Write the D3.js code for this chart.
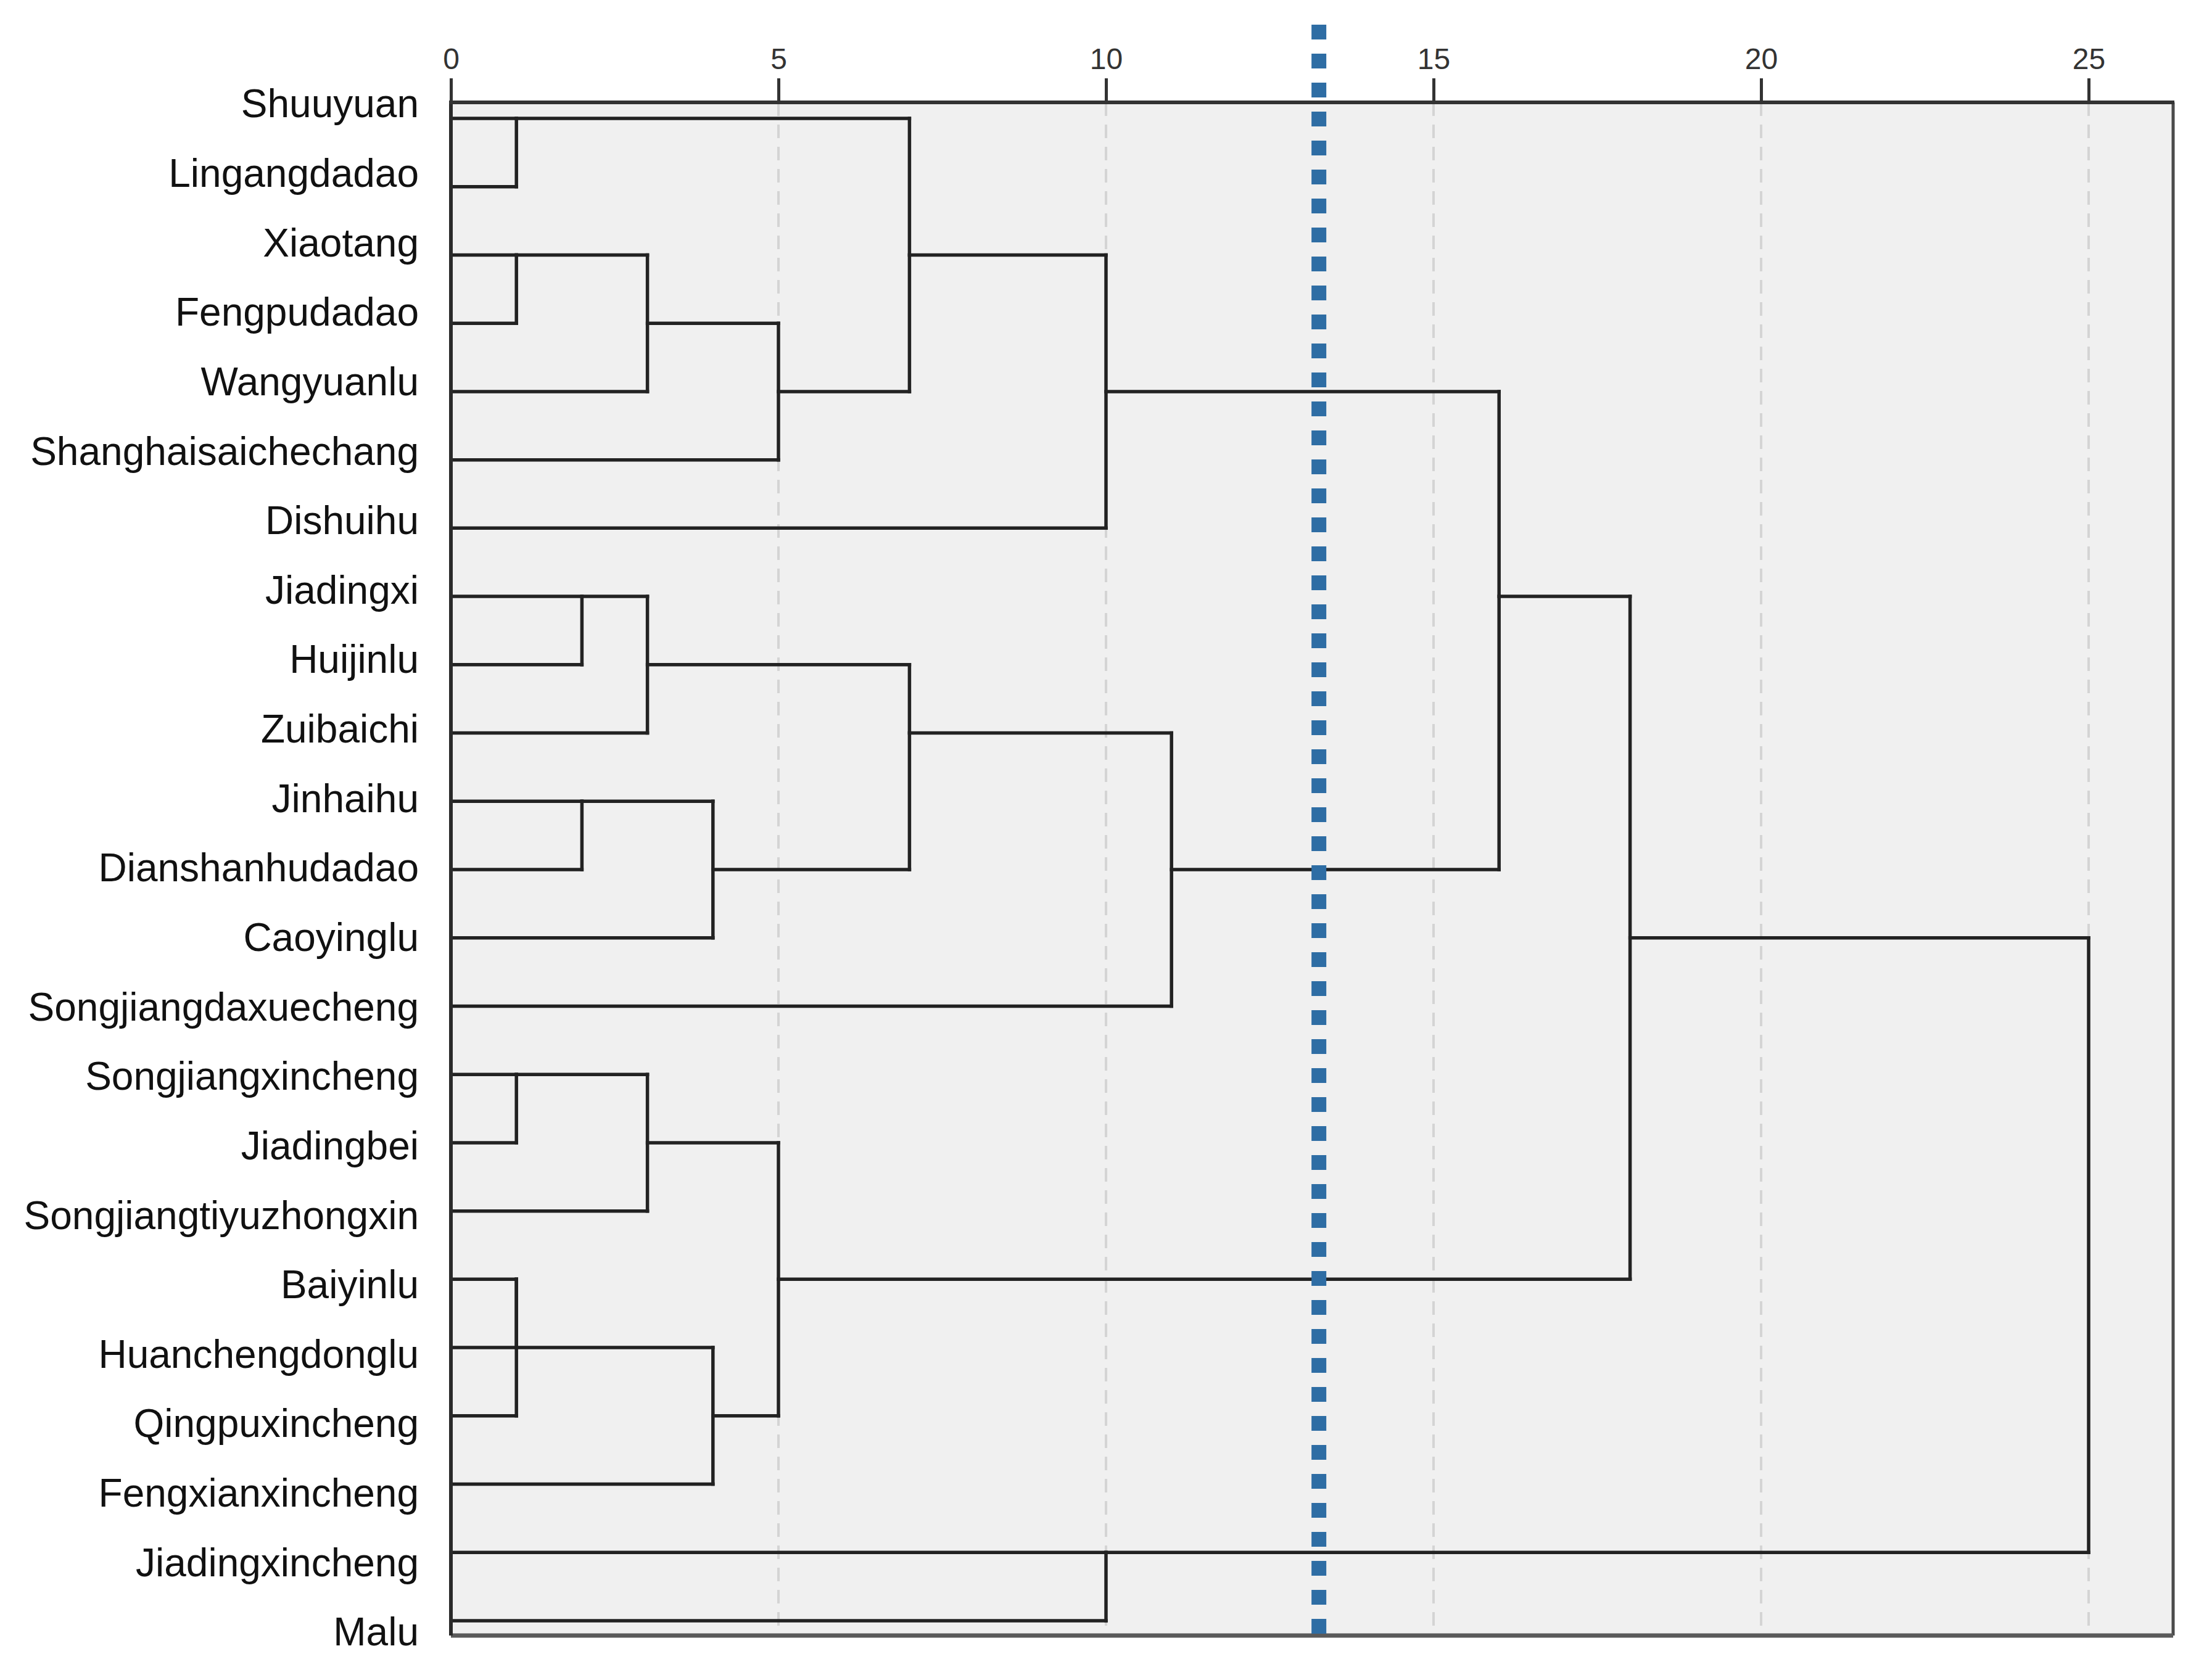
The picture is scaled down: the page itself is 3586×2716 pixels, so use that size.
<!DOCTYPE html>
<html>
<head>
<meta charset="utf-8">
<script src="https://cdn.jsdelivr.net/npm/d3@7"></script>
<style>
  body { margin: 0; background: #fff; }
  svg { display: block; }
</style>
</head>
<body>
<svg id="chart" width="3586" height="2716"></svg>
<script>
// leaf order, top to bottom
var leaves = ["Shuuyuan", "Lingangdadao", "Xiaotang", "Fengpudadao", "Wangyuanlu",
  "Shanghaisaichechang", "Dishuihu", "Jiadingxi", "Huijinlu", "Zuibaichi", "Jinhaihu",
  "Dianshanhudadao", "Caoyinglu", "Songjiangdaxuecheng", "Songjiangxincheng", "Jiadingbei",
  "Songjiangtiyuzhongxin", "Baiyinlu", "Huanchengdonglu", "Qingpuxincheng",
  "Fengxianxincheng", "Jiadingxincheng", "Malu"];

// merges: [childA, childB, rescaled distance]; ids >= leaves.length are earlier merges
var merges = [
  [0, 1, 1], [2, 3, 1], [24, 4, 3], [25, 5, 5], [23, 26, 7], [27, 6, 10],
  [7, 8, 2], [29, 9, 3], [10, 11, 2], [31, 12, 4], [30, 32, 7], [33, 13, 11],
  [28, 34, 16], [14, 15, 1], [36, 16, 3], [17, 18, 1], [38, 19, 1], [39, 20, 4],
  [37, 40, 5], [35, 41, 18], [21, 22, 10], [42, 43, 25]
];

var tickValues = [0, 5, 10, 15, 20, 25];
var cutLevel = 13.25;

var svg = d3.select("#chart");

// note: "top" is taken by window.top, so use other names
var plotLeft = 731, plotRight = 3523, plotTop = 166, plotBottom = 2652;

var x = d3.scaleLinear().domain([0, 25]).range([plotLeft, 3386]);
var row = d3.scaleLinear().domain([0, leaves.length - 1]).range([192, 2628]);
var labelY = d3.scaleLinear().domain([0, leaves.length - 1]).range([168, 2646]);

// plot background
svg.append("rect")
  .attr("x", plotLeft).attr("y", plotTop)
  .attr("width", plotRight - plotLeft).attr("height", plotBottom - plotTop)
  .attr("fill", "#f0f0f0");

// dashed grid
svg.append("g").selectAll("line")
  .data(tickValues.slice(1))
  .enter().append("line")
  .attr("x1", d => x(d)).attr("x2", d => x(d))
  .attr("y1", plotTop).attr("y2", plotBottom)
  .attr("stroke", "#d4d4d4")
  .attr("stroke-width", 4)
  .attr("stroke-dasharray", "22 14");

// build node positions: attach row and height
var nodes = leaves.map(function (name, i) { return { pos: i, h: 0 }; });
var segs = [];
merges.forEach(function (m) {
  var a = nodes[m[0]], b = nodes[m[1]], h = m[2];
  var lo = Math.min(a.pos, b.pos), hi = Math.max(a.pos, b.pos);
  segs.push({ x1: a.h, x2: h, y1: a.pos, y2: a.pos });
  segs.push({ x1: b.h, x2: h, y1: b.pos, y2: b.pos });
  segs.push({ x1: h, x2: h, y1: lo, y2: hi });
  nodes.push({ pos: Math.floor((lo + hi) / 2), h: h });
});

svg.append("g").attr("class", "tree")
  .selectAll("line")
  .data(segs)
  .enter().append("line")
  .attr("x1", d => x(d.x1)).attr("x2", d => x(d.x2))
  .attr("y1", d => row(d.y1)).attr("y2", d => row(d.y2))
  .attr("stroke", "#222")
  .attr("stroke-width", 5.5)
  .attr("stroke-linecap", "square");

// frame
svg.append("line").attr("x1", plotRight).attr("x2", plotRight).attr("y1", plotTop).attr("y2", plotBottom)
  .attr("stroke", "#4a4a4a").attr("stroke-width", 5);
svg.append("line").attr("x1", plotLeft).attr("x2", plotRight).attr("y1", plotBottom).attr("y2", plotBottom)
  .attr("stroke", "#5a5a5a").attr("stroke-width", 7);
svg.append("line").attr("x1", plotLeft).attr("x2", plotLeft).attr("y1", plotTop).attr("y2", plotBottom)
  .attr("stroke", "#2a2a2a").attr("stroke-width", 6);

// top axis
var axis = svg.append("g")
  .attr("transform", "translate(0," + plotTop + ")")
  .call(d3.axisTop(x).tickValues(tickValues).tickSize(39).tickSizeOuter(0).tickPadding(15));
axis.select(".domain").remove();
axis.selectAll(".tick line").attr("stroke", "#333").attr("stroke-width", 5);
axis.selectAll(".tick text")
  .attr("fill", "#333")
  .style("font-family", "'Liberation Sans', Arial, sans-serif")
  .style("font-size", "48px");
svg.append("line").attr("x1", plotLeft - 3).attr("x2", plotRight + 2).attr("y1", plotTop).attr("y2", plotTop)
  .attr("stroke", "#333").attr("stroke-width", 6);

// leaf labels
svg.append("g").selectAll("text")
  .data(leaves)
  .enter().append("text")
  .attr("x", 679)
  .attr("y", (d, i) => labelY(i))
  .attr("dy", "0.35em")
  .attr("text-anchor", "end")
  .attr("fill", "#111")
  .style("font-family", "'Liberation Sans', Arial, sans-serif")
  .style("font-size", "64px")
  .text(d => d);

// cut line
svg.append("line")
  .attr("x1", x(cutLevel)).attr("x2", x(cutLevel))
  .attr("y1", 40).attr("y2", 2670)
  .attr("stroke", "#2e6da4")
  .attr("stroke-width", 24)
  .attr("stroke-dasharray", "24 23");
</script>
</body>
</html>
